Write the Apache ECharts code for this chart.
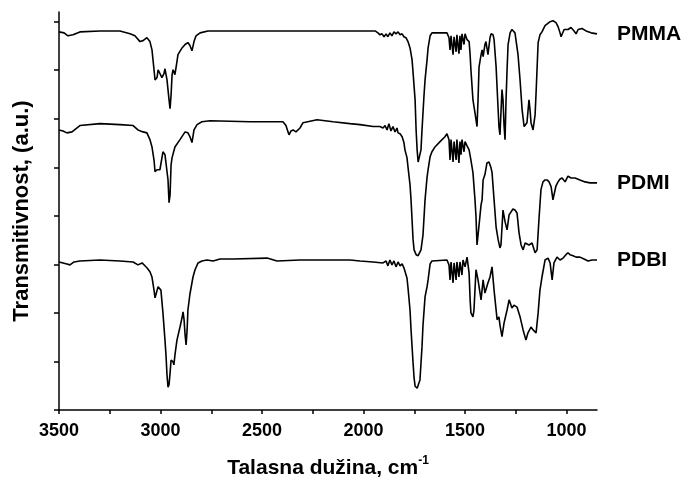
<!DOCTYPE html>
<html>
<head>
<meta charset="utf-8">
<title>FTIR spektri</title>
<script src="https://cdn.jsdelivr.net/npm/echarts@6/dist/echarts.min.js"></script>
<style>
  html, body { margin: 0; padding: 0; background: #fff; }
  #chart { width: 687px; height: 481px; }
</style>
</head>
<body>
<div id="chart"></div>
<script>
// talasni broj (cm-1) i transmisija (a.u.)
const pmma = [
  [3500, 77.9], [3475, 77.7], [3456, 77.1], [3431, 77.3], [3397, 77.9], [3298, 78.1], [3200, 78.1],
  [3150, 77.5], [3126, 77.1], [3101, 75.9], [3086, 76.1], [3067, 76.7], [3052, 75.9], [3042, 74.2],
  [3032, 70.1], [3027, 68.0], [3017, 68.5], [3012, 70.1], [3003, 70.1], [2993, 68.5], [2983, 69.3],
  [2978, 70.3], [2968, 68.0], [2958, 63.9], [2953, 62.1], [2948, 64.9], [2943, 69.1], [2938, 70.1],
  [2929, 69.1], [2919, 71.8], [2914, 73.2], [2894, 74.6], [2879, 75.3], [2865, 75.7], [2855, 75.1],
  [2845, 74.0], [2835, 75.9], [2825, 77.1], [2805, 77.7], [2766, 78.1], [2559, 78.1], [2313, 78.1],
  [2067, 78.1], [1943, 78.1], [1929, 77.7], [1919, 77.3], [1909, 77.5], [1899, 76.9], [1889, 77.5],
  [1880, 76.9], [1870, 77.7], [1860, 77.1], [1850, 77.9], [1840, 77.5], [1830, 77.9], [1820, 77.3],
  [1810, 77.5], [1801, 76.9], [1791, 76.7], [1781, 75.9], [1771, 74.6], [1761, 72.2], [1756, 69.5],
  [1746, 63.9], [1741, 57.7], [1736, 53.6], [1731, 51.1], [1727, 50.7], [1722, 51.1], [1717, 53.6],
  [1712, 57.7], [1702, 64.9], [1697, 68.0], [1687, 72.2], [1682, 74.6], [1672, 77.1], [1663, 77.7],
  [1589, 77.7], [1579, 76.7], [1574, 74.2], [1569, 77.1], [1559, 73.2], [1554, 76.9], [1544, 73.8],
  [1540, 77.3], [1530, 73.4], [1525, 77.1], [1520, 74.2], [1515, 77.5], [1505, 75.3], [1500, 77.5],
  [1490, 76.3], [1480, 75.9], [1475, 73.2], [1471, 70.1], [1461, 63.9], [1451, 61.2], [1446, 60.8],
  [1441, 58.4], [1436, 63.9], [1431, 70.7], [1421, 73.2], [1416, 74.2], [1411, 72.8], [1402, 75.3],
  [1397, 75.9], [1387, 73.2], [1377, 76.7], [1372, 77.5], [1362, 77.3], [1357, 76.3], [1347, 70.7],
  [1337, 61.9], [1333, 58.4], [1328, 56.7], [1323, 56.3], [1318, 66.0], [1313, 63.9], [1308, 58.8],
  [1303, 55.7], [1298, 63.9], [1293, 70.1], [1288, 75.3], [1278, 77.7], [1269, 78.4], [1254, 77.7],
  [1239, 73.2], [1229, 68.0], [1219, 61.9], [1209, 58.4], [1200, 58.1], [1195, 59.2], [1185, 63.9],
  [1180, 61.9], [1175, 59.2], [1165, 57.7], [1155, 60.8], [1150, 65.4], [1140, 75.7], [1131, 77.3],
  [1121, 77.9], [1106, 79.2], [1081, 80.0], [1067, 80.2], [1052, 79.8], [1042, 79.0], [1032, 77.7],
  [1027, 76.9], [1022, 76.5], [1012, 78.4], [1003, 78.8], [993, 78.4], [978, 78.8], [963, 78.1],
  [953, 77.5], [943, 78.4], [924, 78.6], [904, 78.1], [879, 77.7], [850, 77.5]
];

const pdmi = [
  [3500, 57.7], [3480, 57.5], [3461, 57.1], [3436, 57.3], [3397, 58.6], [3298, 59.0], [3200, 58.8],
  [3135, 58.6], [3111, 57.7], [3086, 57.3], [3067, 57.1], [3052, 55.7], [3042, 54.2], [3032, 51.5],
  [3027, 49.1], [3017, 49.5], [3012, 49.9], [3003, 49.5], [2998, 49.9], [2988, 53.2], [2978, 52.6],
  [2973, 52.2], [2963, 47.4], [2958, 42.7], [2953, 44.3], [2948, 50.5], [2943, 52.0], [2929, 54.2],
  [2904, 55.7], [2879, 57.3], [2865, 57.1], [2855, 56.3], [2845, 55.1], [2835, 57.7], [2820, 58.8],
  [2796, 59.4], [2756, 59.6], [2559, 59.4], [2397, 59.4], [2382, 58.6], [2372, 57.3], [2367, 56.7],
  [2357, 57.5], [2347, 57.7], [2333, 57.3], [2313, 58.1], [2298, 59.2], [2229, 59.8], [2150, 59.4],
  [2067, 59.0], [2017, 58.8], [1953, 58.4], [1919, 58.4], [1904, 58.1], [1894, 58.6], [1884, 57.7],
  [1875, 59.0], [1865, 57.5], [1855, 58.4], [1845, 57.3], [1835, 58.1], [1830, 57.1], [1820, 56.9],
  [1810, 56.3], [1801, 55.1], [1796, 53.6], [1786, 52.0], [1781, 50.1], [1771, 46.4], [1766, 43.3],
  [1761, 39.2], [1756, 35.1], [1751, 33.0], [1741, 32.0], [1731, 31.8], [1722, 32.0], [1717, 33.0],
  [1707, 36.1], [1697, 43.3], [1687, 48.0], [1682, 49.5], [1672, 52.2], [1663, 53.2], [1648, 54.2],
  [1623, 55.3], [1599, 56.3], [1589, 56.9], [1579, 55.7], [1574, 51.5], [1569, 55.7], [1559, 51.1],
  [1554, 55.3], [1544, 51.5], [1540, 55.7], [1530, 50.9], [1525, 55.3], [1520, 52.6], [1515, 55.7],
  [1505, 53.2], [1500, 55.3], [1490, 54.4], [1480, 53.6], [1475, 53.6], [1471, 51.5], [1461, 48.9],
  [1451, 43.3], [1446, 39.8], [1441, 34.0], [1436, 33.6], [1431, 38.1], [1421, 42.3], [1416, 43.3],
  [1411, 47.4], [1402, 48.5], [1392, 50.9], [1382, 51.1], [1372, 49.9], [1367, 48.9], [1357, 43.3],
  [1347, 37.7], [1337, 35.1], [1328, 33.4], [1323, 34.0], [1313, 41.2], [1303, 38.8], [1293, 37.1],
  [1283, 40.2], [1278, 40.6], [1264, 41.4], [1254, 41.2], [1244, 40.6], [1234, 36.5], [1224, 34.0],
  [1214, 33.0], [1204, 34.4], [1195, 34.4], [1185, 34.0], [1170, 34.4], [1155, 32.4], [1145, 33.0],
  [1136, 39.2], [1126, 45.4], [1116, 47.0], [1106, 47.4], [1096, 47.4], [1086, 47.0], [1076, 46.0],
  [1067, 43.3], [1062, 44.3], [1052, 46.2], [1042, 47.0], [1032, 47.6], [1022, 47.8], [1007, 47.0],
  [993, 48.2], [978, 47.8], [958, 47.8], [934, 47.4], [909, 47.0], [884, 46.8], [850, 46.8]
];

const pdbi = [
  [3500, 30.5], [3480, 30.3], [3461, 30.1], [3446, 29.9], [3426, 30.5], [3397, 30.7], [3298, 30.9],
  [3200, 30.7], [3135, 30.5], [3111, 29.9], [3091, 30.3], [3067, 29.3], [3052, 28.5], [3042, 27.4],
  [3032, 24.7], [3027, 23.1], [3022, 22.9], [3012, 25.4], [3007, 25.6], [2998, 24.7], [2988, 20.0],
  [2978, 14.4], [2973, 11.3], [2968, 7.2], [2963, 4.7], [2958, 5.2], [2953, 7.6], [2948, 10.3],
  [2943, 10.7], [2938, 9.9], [2934, 9.3], [2929, 11.3], [2919, 14.4], [2904, 17.1], [2894, 19.0],
  [2889, 20.2], [2884, 18.6], [2879, 15.5], [2874, 13.4], [2869, 16.5], [2865, 20.6], [2855, 23.9],
  [2840, 27.4], [2830, 28.9], [2815, 30.3], [2796, 30.7], [2771, 30.9], [2741, 30.7], [2707, 31.1],
  [2643, 31.1], [2475, 31.3], [2426, 30.7], [2313, 30.9], [2067, 30.9], [2017, 30.7], [1953, 30.5],
  [1904, 30.3], [1889, 30.7], [1880, 29.7], [1870, 30.9], [1860, 29.9], [1850, 30.7], [1840, 29.5],
  [1830, 30.5], [1820, 29.7], [1810, 30.1], [1801, 29.3], [1796, 28.9], [1786, 27.2], [1781, 25.2],
  [1771, 20.6], [1766, 16.5], [1756, 9.7], [1751, 6.6], [1746, 4.9], [1736, 4.5], [1727, 4.9],
  [1722, 6.2], [1712, 13.0], [1707, 17.5], [1697, 23.3], [1687, 25.4], [1682, 26.8], [1672, 30.1],
  [1663, 30.7], [1589, 30.9], [1579, 29.9], [1574, 26.8], [1569, 30.5], [1559, 26.2], [1554, 30.3],
  [1544, 26.8], [1540, 30.5], [1530, 27.4], [1525, 30.5], [1515, 27.8], [1510, 30.9], [1500, 29.5],
  [1490, 31.5], [1480, 28.2], [1475, 22.7], [1471, 20.0], [1461, 19.2], [1456, 20.6], [1446, 28.9],
  [1436, 26.8], [1421, 22.7], [1411, 26.8], [1402, 24.1], [1387, 26.2], [1377, 27.4], [1367, 29.5],
  [1357, 24.7], [1342, 18.6], [1333, 19.2], [1328, 17.5], [1318, 15.1], [1308, 17.9], [1293, 20.6],
  [1283, 22.7], [1269, 21.0], [1259, 21.6], [1244, 21.2], [1229, 19.2], [1214, 16.5], [1200, 14.4],
  [1190, 15.9], [1175, 17.1], [1165, 16.5], [1150, 15.9], [1140, 20.0], [1131, 24.7], [1121, 27.4],
  [1106, 30.9], [1091, 31.3], [1081, 30.3], [1071, 26.8], [1062, 30.3], [1047, 31.5], [1032, 30.9],
  [1017, 31.3], [1003, 32.0], [993, 32.4], [983, 32.0], [968, 31.8], [953, 31.5], [934, 31.5],
  [914, 31.1], [894, 30.7], [874, 30.9], [850, 30.9]
];

const seriesNames = ['PMMA', 'PDMI', 'PDBI'];
const xTicks = [3500, 3250, 3000, 2750, 2500, 2250, 2000, 1750, 1500, 1250, 1000];
const xLabels = [3500, 3000, 2500, 2000, 1500, 1000];
const yTicks = [0, 10, 20, 30, 40, 50, 60, 70, 80];

const FONT = 'Liberation Sans, Arial, sans-serif';
const chart = echarts.init(document.getElementById('chart'));

const makeSeries = (name, data) => ({
  name: name,
  type: 'line',
  data: data,
  showSymbol: false,
  silent: true,
  lineStyle: { color: '#000', width: 1.6 }
});

const allData = [pmma, pdmi, pdbi];

const option = {
  animation: false,
  grid: { left: 59, right: 90, top: 12, bottom: 71, outerBoundsMode: 'none', containLabel: false },
  xAxis: {
    type: 'value',
    inverse: true,
    min: 850,
    max: 3500,
    name: '{t|Talasna dužina, cm}{s|-1}',
    nameLocation: 'middle',
    nameGap: 45,
    nameTextStyle: {
      rich: {
        t: { fontFamily: FONT, fontWeight: 'bold', fontSize: 21, color: '#000', lineHeight: 26 },
        s: { fontFamily: FONT, fontWeight: 'bold', fontSize: 12, color: '#000', verticalAlign: 'top', lineHeight: 26 }
      }
    },
    axisLine: { lineStyle: { color: '#000', width: 1.5 } },
    axisTick: { customValues: xTicks, length: 4, lineStyle: { color: '#000', width: 1.5 } },
    axisLabel: {
      customValues: xLabels,
      formatter: (v) => String(v),
      color: '#000',
      fontFamily: FONT,
      fontWeight: 'bold',
      fontSize: 18,
      margin: 12
    },
    splitLine: { show: false }
  },
  yAxis: {
    type: 'value',
    min: 0,
    max: 82,
    name: 'Transmitivnost, (a.u.)',
    nameLocation: 'middle',
    nameGap: 26,
    nameTextStyle: { fontFamily: FONT, fontWeight: 'bold', fontSize: 22, color: '#000' },
    axisLine: { show: true, lineStyle: { color: '#000', width: 1.5 } },
    axisTick: { show: true, customValues: yTicks, length: 5, lineStyle: { color: '#000', width: 1.5 } },
    axisLabel: { show: false },
    splitLine: { show: false }
  },
  series: allData.map((d, i) => makeSeries(seriesNames[i], d))
};

chart.setOption(option);

// nazivi uzoraka desno od kraja svake krive
const labels = allData.map((d, i) => {
  const last = d[d.length - 1];
  const p = chart.convertToPixel({ gridIndex: 0 }, last);
  return {
    type: 'text',
    x: p[0] + 20,
    y: p[1],
    silent: true,
    style: {
      text: seriesNames[i],
      fill: '#000',
      font: 'bold 21px ' + FONT,
      textVerticalAlign: 'middle',
      verticalAlign: 'middle'
    }
  };
});
chart.setOption({ graphic: labels });
</script>
</body>
</html>
